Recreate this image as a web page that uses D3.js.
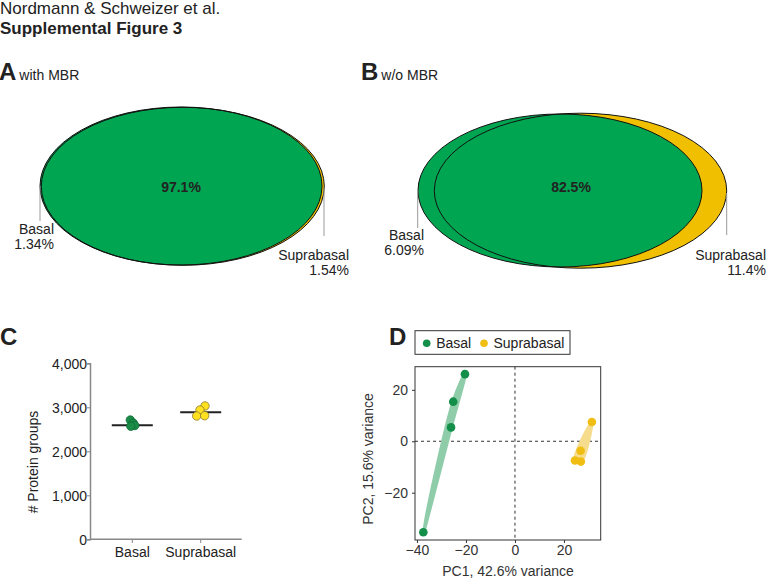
<!DOCTYPE html>
<html><head><meta charset="utf-8">
<script src="https://cdn.jsdelivr.net/npm/d3@7"></script>
<style>body{margin:0;background:#fff}svg{display:block;font-family:"Liberation Sans",Arial,sans-serif}</style>
</head><body>
<svg id="c" width="767" height="579"></svg>
<script>
// ---------- data ----------
const titleLines = ["Nordmann & Schweizer et al.", "Supplemental Figure 3"];
const vennLabels = ["Basal", "Suprabasal"];
const vennWithMBR = [1.34, 97.1, 1.54];   // basal only, overlap, suprabasal only (%)
const vennWithoutMBR = [6.09, 82.5, 11.4];
const groups = ["Basal", "Suprabasal"];
const proteinBasal = [2711, 2640, 2585, 2570];
const proteinSuprabasal = [3030, 2939, 2802, 2809];
const proteinMeans = [2590, 2890];
const yTicksC = [0, 1000, 2000, 3000, 4000];
const pcaBasal = [[-20.4, 26.1], [-25.2, 15.4], [-26.1, 5.4], [-37.4, -35.4]];
const pcaSuprabasal = [[31.4, 7.5], [26.8, -3.7], [24.5, -7.5], [26.9, -7.9]];
const pcaXTicks = [-40, -20, 0, 20];
const pcaYTicks = [-20, 0, 20];
const pc1Var = 42.6, pc2Var = 15.6;

const svg = d3.select("#c");
const GREEN = "#00a551", YEL = "#f0c000";
const FF = "Liberation Sans, Arial, sans-serif";

// ---------- header ----------
svg.append("text").attr("x", 0).attr("y", 14).style("font-size", "17px").attr("fill", "#222").text(titleLines[0]);
svg.append("text").attr("x", 0).attr("y", 33.5).style("font-size", "17px").attr("font-weight", "bold").attr("fill", "#222").text(titleLines[1]);

function panelLabel(x, y, letter, sub) {
  const t = svg.append("text").attr("x", x).attr("y", y).attr("fill", "#222");
  t.append("tspan").style("font-size", "24px").attr("font-weight", "bold").text(letter);
  if (sub) t.append("tspan").attr("dx", 3).style("font-size", "14px").text(sub);
}
panelLabel(-1, 80, "A", "with MBR");
panelLabel(361, 80, "B", "w/o MBR");
panelLabel(0, 345, "C");
panelLabel(389, 345, "D");

// ---------- Venn ----------
function fmt(v) { return v + "%"; }
function venn(vals, geo) {
  const g = svg.append("g");
  const [b, s] = geo.ell;
  g.append("ellipse").attr("cx", s.cx).attr("cy", s.cy).attr("rx", s.rx).attr("ry", s.ry).attr("fill", YEL);
  g.append("ellipse").attr("cx", b.cx).attr("cy", b.cy).attr("rx", b.rx).attr("ry", b.ry).attr("fill", GREEN);
  [b, s].forEach(e => g.append("ellipse").attr("cx", e.cx).attr("cy", e.cy).attr("rx", e.rx).attr("ry", e.ry)
    .attr("fill", "none").attr("stroke", "#111").attr("stroke-width", 1));
  g.append("text").attr("x", geo.center[0]).attr("y", geo.center[1]).attr("text-anchor", "middle")
    .style("font-size", "14px").attr("font-weight", "bold").attr("fill", "#222").text(fmt(vals[1]));
  geo.leaders.forEach((L, i) => {
    g.append("line").attr("x1", L.x).attr("x2", L.x).attr("y1", L.y1).attr("y2", L.y2).attr("stroke", "#999").attr("stroke-width", 1);
    g.append("text").attr("text-anchor", "end").style("font-size", "14px").attr("fill", "#222")
      .attr("x", L.tx).attr("y", L.ty).text(vennLabels[i]);
    g.append("text").attr("text-anchor", "end").style("font-size", "14px").attr("fill", "#222")
      .attr("x", L.tx).attr("y", L.ty + 15).text(fmt(vals[i === 0 ? 0 : 2]));
  });
}
venn(vennWithMBR, {
  ell: [{cx: 181, cy: 186, rx: 141, ry: 79}, {cx: 182.8, cy: 186.3, rx: 141.5, ry: 79}],
  center: [181, 192],
  leaders: [{x: 40, y1: 186, y2: 221, tx: 54, ty: 233.5}, {x: 324, y1: 188, y2: 236, tx: 349, ty: 259.5}]
});
venn(vennWithoutMBR, {
  ell: [{cx: 560, cy: 190.5, rx: 142, ry: 76.5}, {cx: 580.5, cy: 190.7, rx: 146.2, ry: 77.5}],
  center: [571, 192],
  leaders: [{x: 417.7, y1: 190, y2: 228, tx: 424, ty: 239.5}, {x: 726.7, y1: 193, y2: 235, tx: 766, ty: 259.5}]
});

// ---------- C: protein groups ----------
(function () {
  const x = d3.scalePoint().domain(groups).range([132.3, 200.7]);
  const y = d3.scaleLinear().domain([0, 4000]).range([539.3, 363.3]);
  const g = svg.append("g");
  const ya = g.append("g").attr("transform", "translate(90,0)")
    .call(d3.axisLeft(y).tickValues(yTicksC).tickFormat(d3.format(",")).tickSize(3));
  ya.select(".domain").attr("stroke", "#888").attr("stroke-width", 1.5);
  ya.selectAll(".tick line").attr("stroke", "#888");
  ya.selectAll("text").style("font-size", "14px").style("font-family", FF).attr("fill", "#222").attr("x", -3).attr("dy", "0.35em");
  g.append("line").attr("x1", 90).attr("x2", 241.7).attr("y1", 539.3).attr("y2", 539.3).attr("stroke", "#888").attr("stroke-width", 1.5);
  groups.forEach(gr => {
    g.append("line").attr("x1", x(gr)).attr("x2", x(gr)).attr("y1", 539.3).attr("y2", 543).attr("stroke", "#888");
    g.append("text").attr("x", x(gr)).attr("y", 557).attr("text-anchor", "middle").style("font-size", "14px").attr("fill", "#222").text(gr);
  });
  g.append("text").attr("transform", "translate(38,462) rotate(-90)").attr("text-anchor", "middle")
    .style("font-size", "14px").attr("fill", "#222").text("# Protein groups");
  const jB = [-2, 1, 2.5, -1.5], jS = [4.3, -0.7, -4, 4];
  const pts = [[proteinBasal, jB, "#1a8c48", "#0d6a33"], [proteinSuprabasal, jS, "#ffe11f", "#8a7a30"]];
  pts.forEach(([vals, jit, fill, st], gi) => {
    const cx = x(groups[gi]);
    g.append("line").attr("x1", cx - 20.5).attr("x2", cx + 20.5).attr("y1", y(proteinMeans[gi])).attr("y2", y(proteinMeans[gi]))
      .attr("stroke", "#222").attr("stroke-width", 2);
    vals.forEach((v, i) => g.append("circle").attr("cx", cx + jit[i]).attr("cy", y(v)).attr("r", 4.2)
      .attr("fill", fill).attr("stroke", st).attr("stroke-width", 0.8));
  });
})();

// ---------- D: PCA ----------
(function () {
  const L = 415, R = 600.7, T = 366.7, B = 540;
  const x = d3.scaleLinear().domain([-40.8, 35]).range([L, R]);
  const y = d3.scaleLinear().domain([-38.4, 29]).range([B, T]);
  const g = svg.append("g");
  g.append("line").attr("x1", x(0)).attr("x2", x(0)).attr("y1", T).attr("y2", B).attr("stroke", "#333").attr("stroke-dasharray", "3,3");
  g.append("line").attr("x1", L).attr("x2", R).attr("y1", y(0)).attr("y2", y(0)).attr("stroke", "#333").attr("stroke-dasharray", "3,3");
  const sets = [[pcaBasal, "#138f49", "#8fcca9"], [pcaSuprabasal, "#f0be12", "#f6dc8d"]];
  const hullLine = d3.line().curve(d3.curveCatmullRomClosed.alpha(0.5));
  sets.forEach(([pts, col, hc]) => {
    const hull = d3.polygonHull(pts.map(p => [x(p[0]), y(p[1])]));
    g.append("path").attr("d", hullLine(hull)).attr("fill", hc).attr("stroke", hc).attr("stroke-width", 3.5).attr("stroke-linejoin", "round");
  });
  sets.forEach(([pts, col]) => {
    pts.forEach(p => g.append("circle").attr("cx", x(p[0])).attr("cy", y(p[1])).attr("r", 4.3).attr("fill", col));
  });
  g.append("rect").attr("x", L).attr("y", T).attr("width", R - L).attr("height", B - T).attr("fill", "none").attr("stroke", "#333").attr("stroke-width", 1);
  const minus = d => d < 0 ? "\u2212" + (-d) : d;
  const xa = g.append("g").attr("transform", `translate(0,${B})`).call(d3.axisBottom(x).tickValues(pcaXTicks).tickSize(3).tickFormat(minus));
  const ya = g.append("g").attr("transform", `translate(${L},0)`).call(d3.axisLeft(y).tickValues(pcaYTicks).tickSize(3).tickFormat(minus));
  [xa, ya].forEach(a => {
    a.select(".domain").remove();
    a.selectAll(".tick line").attr("stroke", "#333");
    a.selectAll("text").style("font-size", "14px").style("font-family", FF).attr("fill", "#333");
  });
  xa.selectAll("text").attr("y", 5);
  ya.selectAll("text").attr("x", -7);
  g.append("text").attr("x", 508).attr("y", 576).attr("text-anchor", "middle").style("font-size", "14px").attr("fill", "#333")
    .text(`PC1, ${pc1Var}% variance`);
  g.append("text").attr("transform", "translate(373,459) rotate(-90)").attr("text-anchor", "middle").style("font-size", "14px").attr("fill", "#333")
    .text(`PC2,  ${pc2Var}% variance`);
  // legend
  g.append("rect").attr("x", 415).attr("y", 330.7).attr("width", 155).attr("height", 23.6).attr("fill", "#fff").attr("stroke", "#333");
  [[groups[0], "#138f49", 426.7], [groups[1], "#f0be12", 484]].forEach(([lab, col, lx]) => {
    g.append("circle").attr("cx", lx).attr("cy", 343.3).attr("r", 3.8).attr("fill", col);
    g.append("text").attr("x", lx + 9.5).attr("y", 348).style("font-size", "14px").attr("fill", "#222").text(lab);
  });
})();
</script>
</body></html>
